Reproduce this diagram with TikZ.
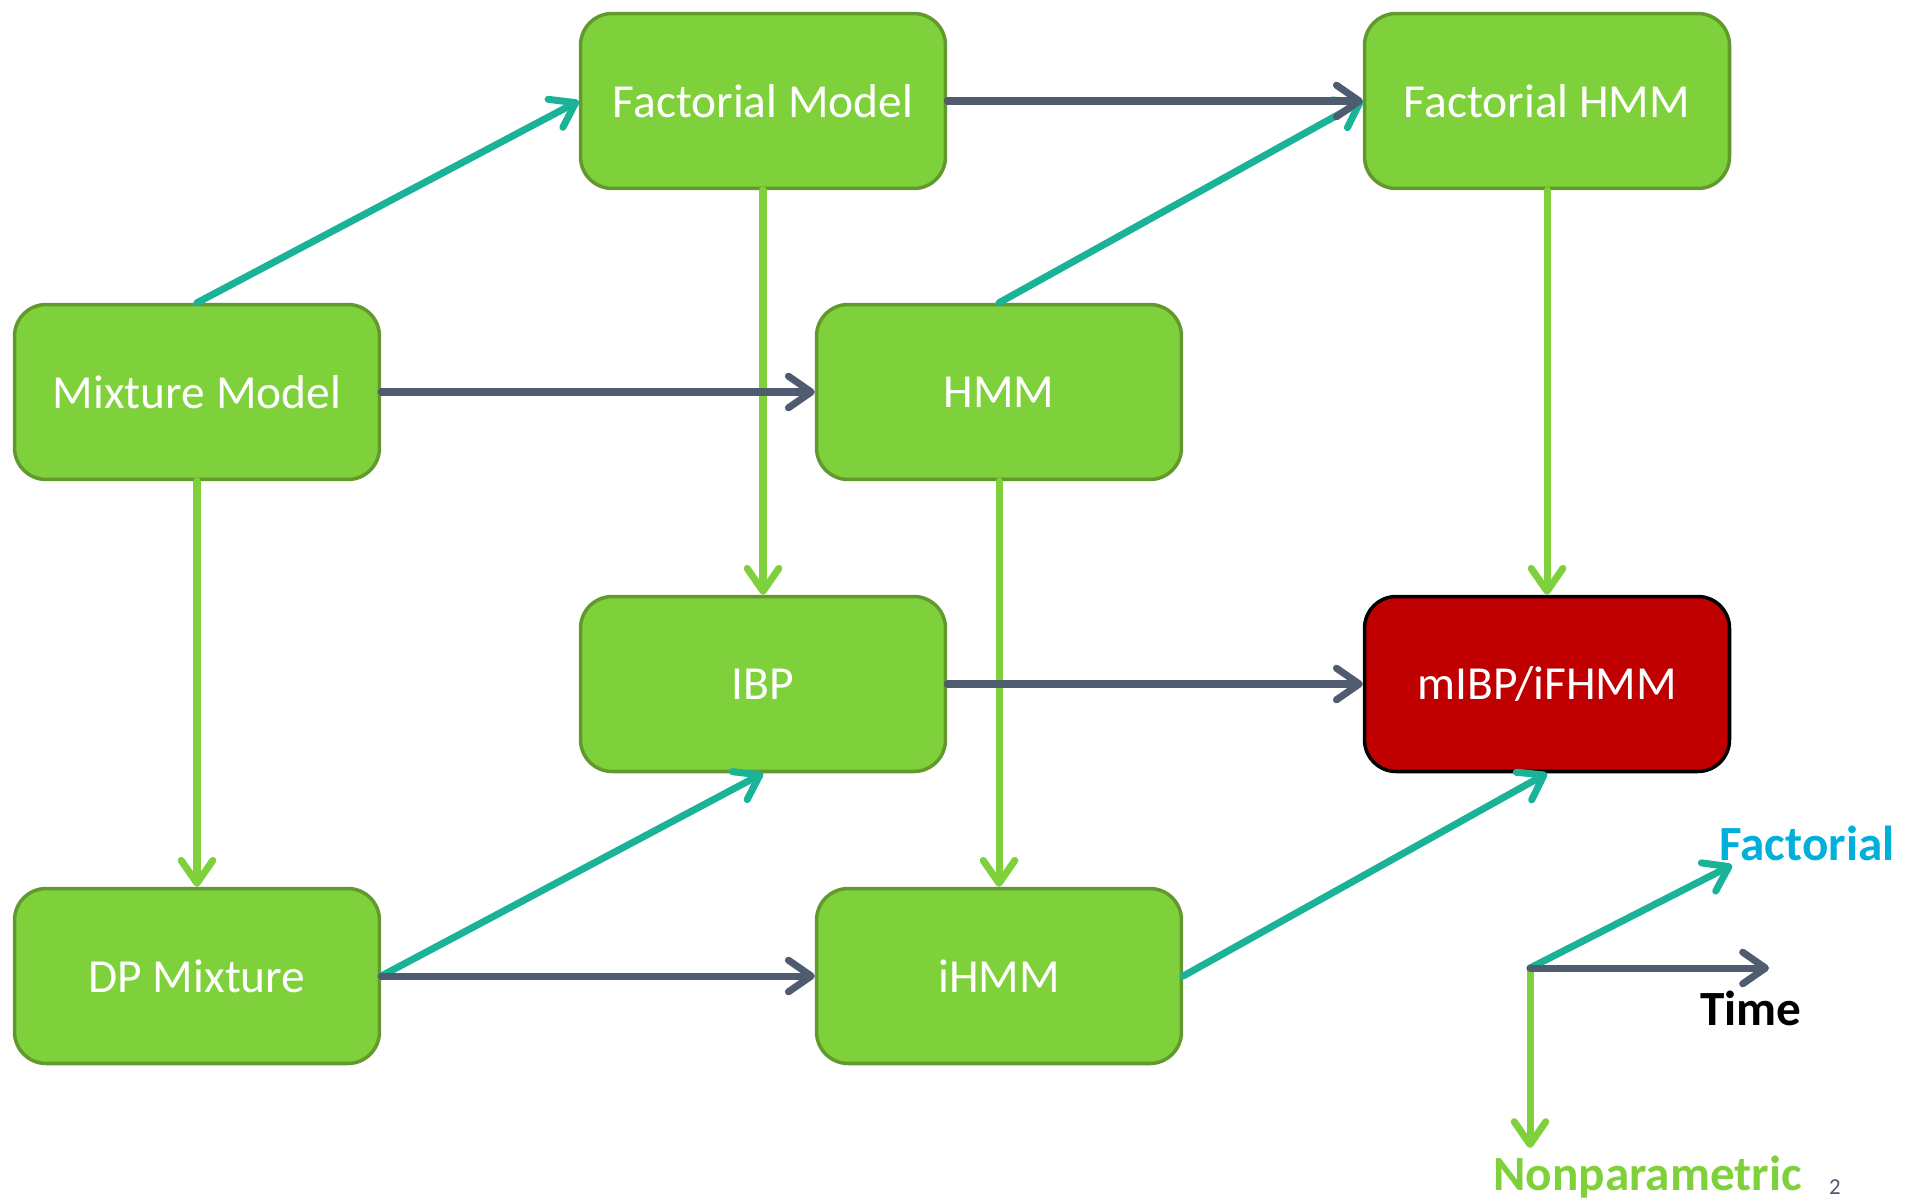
\documentclass[tikz,border=0pt]{standalone}
\usepackage{fontspec}
\setmainfont{Carlito}
\usepackage{tikz}
\usetikzlibrary{arrows.meta}

\definecolor{boxgreen}{RGB}{127,209,59}
\definecolor{boxedge}{RGB}{98,153,46}
\definecolor{boxred}{RGB}{192,0,0}
\definecolor{timegray}{RGB}{79,91,111}
\definecolor{factteal}{RGB}{27,179,152}
\definecolor{factcyan}{RGB}{0,176,218}

\tikzset{
  model/.style={align=center, draw=boxedge, fill=boxgreen, line width=2pt,
    rounded corners=18pt, minimum height=3.5cm, minimum width=7.3cm,
    text=white, font=\fontsize{27}{32}\selectfont},
  result/.style={model, draw=black, fill=boxred},
  link/.style={-{Straight Barb[length=13pt,width=18pt,round]}, line width=4pt,
    line cap=round, line join=round},
  timearrow/.style={link, draw=timegray},
  factarrow/.style={link, draw=factteal},
  nparrow/.style={link, draw=boxgreen},
  axislabel/.style={font=\bfseries\fontsize{28}{32}\selectfont, anchor=base west, inner sep=0pt}
}

\begin{document}
\begin{tikzpicture}[x=0.02cm, y=-0.02cm]
  \useasboundingbox (0,0) rectangle (1905,1200);

  \node at (197,392) [model] (mixture) {Mixture Model};
  \node at (763,101) [model] (factorial) {Factorial Model};
  \node at (999,392) [model] (hmm) {HMM};
  \node at (1547,101) [model] (facthmm) {Factorial HMM};
  \node at (197,976) [model] (dpmix) {DP Mixture};
  \node at (763,684) [model] (ibp) {IBP};
  \node at (999,976) [model] (ihmm) {iHMM};
  \node at (1547,684) [result] (mibp) {mIBP/iFHMM};

  % nonparametric
  \draw[nparrow] (factorial) -- (ibp);
  \draw[nparrow] (facthmm) -- (mibp);
  \draw[nparrow] (mixture) -- (dpmix);
  \draw[nparrow] (hmm) -- (ihmm);

  % factorial
  \draw[factarrow] (mixture.north) -- (factorial.west);
  \draw[factarrow] (hmm.north) -- (facthmm.west);
  \draw[factarrow] (dpmix.east) -- (ibp.south);
  \draw[factarrow] (ihmm.east) -- (mibp.south);

  % time
  \draw[timearrow] (factorial) -- (facthmm);
  \draw[timearrow] (mixture) -- (hmm);
  \draw[timearrow] (ibp) -- (mibp);
  \draw[timearrow] (dpmix) -- (ihmm);

  % legend
  \coordinate (origin) at (1530,968);
  \coordinate (timetip) at (1769,968);
  \coordinate (facttip) at (1732,865);
  \coordinate (nptip) at (1530,1148);

  \draw[nparrow] (origin) -- (nptip);
  \draw[factarrow] (origin) -- (facttip);
  \draw[timearrow] (origin) -- (timetip);

  \node at (1719,860) [axislabel, text=factcyan] (factlabel) {Factorial};
  \node at (1700,1025) [axislabel, text=black] (timelabel) {Time};
  \node at (1493,1190) [axislabel, text=boxgreen] (nplabel) {Nonparametric};

  \node at (1835,1187) [text=timegray, font=\fontsize{13}{15}\selectfont] (pagenum) {2};
\end{tikzpicture}
\end{document}
